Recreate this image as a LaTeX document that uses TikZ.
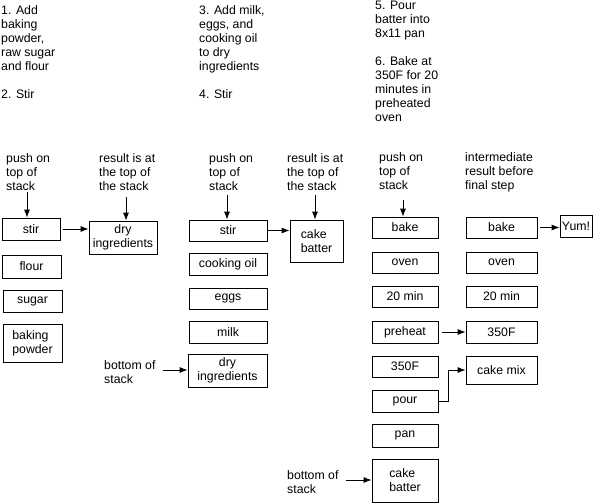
\documentclass[tikz,border=0pt]{standalone}
\usepackage{fontspec}
\setmainfont{Liberation Sans}
\usetikzlibrary{arrows.meta}

\begin{document}
\begin{tikzpicture}[x=1pt,y=-1pt,
  every node/.style={font=\fontsize{12.3}{14}\selectfont},
  cell/.style={draw=black,line width=0.8pt,inner sep=0pt,minimum width=66pt,minimum height=22pt,align=center},
  note/.style={anchor=north west,inner sep=0pt,align=left},
  push/.style={draw=black,line width=0.8pt,-{Latex[length=8pt,width=6pt]}}]
\useasboundingbox (0,0) rectangle (601,503);
% recipe steps:
\node[note] (step1) at (1,5) {1. Add\\baking\\powder,\\raw sugar\\and flour\\[14pt]2. Stir};
\node[note] (step3) at (199,5) {3. Add milk,\\eggs, and\\cooking oil\\to dry\\ingredients\\[14pt]4. Stir};
\node[note] (step5) at (375,1) {5. Pour\\batter into\\8x11 pan\\[14pt]6. Bake at\\350F for 20\\minutes in\\preheated\\oven};
% captions:
\node[note] (push1) at (6,153) {push on\\top of\\stack};
\node[note] (res1) at (99,153) {result is at\\the top of\\the stack};
\node[note] (push2) at (209,153) {push on\\top of\\stack};
\node[note] (res2) at (287,153) {result is at\\the top of\\the stack};
\node[note] (push3) at (379,152) {push on\\top of\\stack};
\node[note] (inter) at (465,152) {intermediate\\result before\\final step};
\node[note] (bot1) at (104,360) {bottom of\\stack};
\node[note] (bot2) at (287,470) {bottom of\\stack};
% first stack:
\node[cell,minimum width=58pt] (stir1) at (31,229) {stir};
\node[cell,minimum width=59pt,minimum height=23pt] (flour) at (31.5,266.5) {flour};
\node[cell,minimum width=59pt] (sugar) at (32.5,301) {sugar};
\node[cell,minimum width=59pt,minimum height=38pt,align=left] (powder) at (32.5,343) {baking\\powder};
\node[cell,minimum width=68pt,minimum height=33pt] (dry1) at (123,237.5) {dry\\ingredients};
% second stack:
\node[cell,minimum width=78pt,minimum height=21pt] (stir2) at (228,230.5) {stir};
\node[cell,minimum width=78pt] (oil) at (228,264) {cooking oil};
\node[cell,minimum width=78pt,minimum height=21pt] (eggs) at (228,298.5) {eggs};
\node[cell,minimum width=78pt] (milk) at (228,332) {milk};
\node[cell,minimum width=79pt,minimum height=33pt] (dry2) at (227.5,370.5) {dry\\ingredients};
\node[cell,minimum width=53pt,minimum height=42pt,align=left] (batter1) at (316.5,241) {cake\\batter};
% third stack:
\node[cell,minimum height=21pt] (bake1) at (405,227.5) {bake};
\node[cell,minimum height=21pt] (oven1) at (405,262.5) {oven};
\node[cell,minimum height=21pt] (min1) at (405,296.5) {20 min};
\node[cell] (preheat) at (405,332) {preheat};
\node[cell,minimum height=21pt] (deg1) at (405,366.5) {350F};
\node[cell] (pour) at (405,401) {pour};
\node[cell,minimum height=23pt] (pan) at (405,435.5) {pan};
\node[cell,minimum height=43pt,align=left] (batter2) at (405,480.5) {cake\\batter};
% intermediate stack:
\node[cell,minimum width=71pt,minimum height=21pt] (bake2) at (501.5,227.5) {bake};
\node[cell,minimum width=71pt,minimum height=21pt] (oven2) at (501.5,262.5) {oven};
\node[cell,minimum width=71pt,minimum height=21pt] (min2) at (501.5,296.5) {20 min};
\node[cell,minimum width=71pt] (deg2) at (501.5,332) {350F};
\node[cell,minimum width=71pt,minimum height=28pt] (mix) at (501.5,370) {cake mix};
\node[cell,minimum width=32pt] (yum) at (576,226) {Yum!};
% arrows:
\coordinate (p1) at (27,192);
\coordinate (r1) at (126,197);
\coordinate (p2) at (227,195);
\coordinate (r2) at (315,195);
\coordinate (p3) at (403,200);
\coordinate (b1) at (163,370);
\coordinate (b2) at (346,480);
\draw[push] (p1) -- (p1 |- stir1.north);
\draw[push] (r1) -- (r1 |- dry1.north);
\draw[push] (p2) -- (p2 |- stir2.north);
\draw[push] (r2) -- (r2 |- batter1.north);
\draw[push] (p3) -- (p3 |- bake1.north);
\draw[push] ([xshift=3pt]stir1.east) -- (stir1.east -| dry1.west);
\draw[push] ([xshift=1pt]stir2.east) -- (stir2.east -| batter1.west);
\draw[push] ([xshift=3pt]bake2.east) -- (bake2.east -| yum.west);
\draw[push] ([xshift=4pt]preheat.east) -- (deg2.west);
\draw[push] (pour.east) -- ++(10,0) |- (mix.west);
\draw[push] (b1) -- (b1 -| dry2.west);
\draw[push] (b2) -- (b2 -| batter2.west);
\end{tikzpicture}
\end{document}
